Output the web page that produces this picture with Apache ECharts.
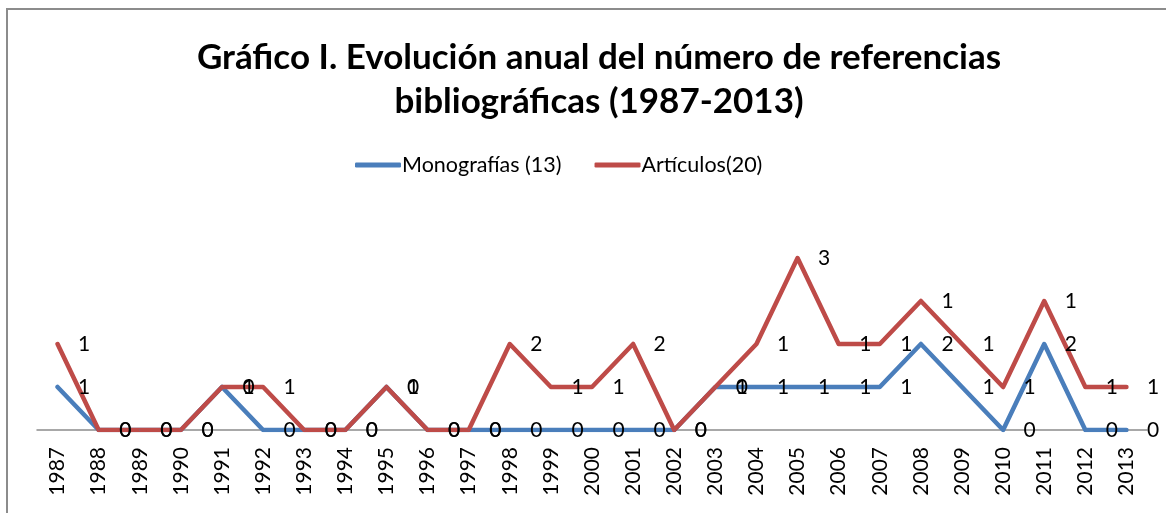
<!DOCTYPE html>
<html>
<head>
<meta charset="utf-8">
<script src="https://cdn.jsdelivr.net/npm/echarts@6/dist/echarts.min.js"></script>
<style>
    html, body { margin: 0; padding: 0; background: #fff; }
    #chartsDOM { width: 1166px; height: 513px; }
</style>
</head>
<body>
<div id="chartsDOM"></div>
<script>
// años del eje horizontal
var years = ['1987', '1988', '1989', '1990', '1991', '1992', '1993', '1994', '1995',
    '1996', '1997', '1998', '1999', '2000', '2001', '2002', '2003', '2004', '2005',
    '2006', '2007', '2008', '2009', '2010', '2011', '2012', '2013'];
// Monografías (13)
var monografias = [1, 0, 0, 0, 1, 0, 0, 0, 1, 0, 0, 0, 0, 0, 0, 0, 1, 1, 1, 1, 1, 2, 1, 0, 2, 0, 0];
// Artículos (20) - apilado sobre monografías
var articulos = [1, 0, 0, 0, 0, 1, 0, 0, 0, 0, 0, 2, 1, 1, 2, 0, 0, 1, 3, 1, 1, 1, 1, 1, 1, 1, 1];

var fuente = 'Lato';

var myChart = echarts.init(document.getElementById('chartsDOM'));
var etiqueta = {
    show: true,
    position: 'right',
    distance: 20,
    color: '#000',
    fontFamily: fuente,
    fontSize: 21
};
var option = {
    animation: false,
    title: {
        text: 'Gráfico I. Evolución anual del número de referencias\nbibliográficas (1987-2013)',
        left: 594,
        top: 31,
        textAlign: 'center',
        textStyle: {
            color: '#000',
            fontFamily: fuente,
            fontWeight: 'bold',
            fontSize: 35,
            lineHeight: 44
        }
    },
    legend: {
        top: 149,
        left: 350,
        itemWidth: 46,
        itemHeight: 5,
        itemGap: 33,
        icon: 'roundRect',
        textStyle: { color: '#000', fontFamily: fuente, fontSize: 21.5, padding: [0, 0, 0, -4] },
        data: ['Monografías (13)', 'Artículos(20)']
    },
    // marco del gráfico
    graphic: [{
        type: 'rect',
        shape: { x: 7, y: 9, width: 1200, height: 600 },
        style: { fill: 'none', stroke: '#8c8c8c', lineWidth: 2 },
        silent: true
    }],
    grid: { left: 37, right: 19, top: 215, bottom: 83 },
    xAxis: {
        type: 'category',
        data: years,
        boundaryGap: true,
        axisLine: { lineStyle: { color: '#8c8c8c', width: 1.5 } },
        axisTick: { show: false },
        axisLabel: {
            rotate: 90,
            interval: 0,
            margin: 17,
            color: '#000',
            fontFamily: fuente,
            fontSize: 21
        }
    },
    yAxis: {
        type: 'value',
        min: 0,
        max: 5,
        show: false,
        splitLine: { show: false }
    },
    series: [
        {
            name: 'Monografías (13)',
            type: 'line',
            stack: 'total',
            data: monografias,
            symbol: 'circle',
            symbolSize: 1,
            color: '#4a7ebb',
            lineStyle: { width: 4.5, cap: 'round', join: 'round' },
            label: etiqueta
        },
        {
            name: 'Artículos(20)',
            type: 'line',
            stack: 'total',
            data: articulos,
            symbol: 'circle',
            symbolSize: 1,
            color: '#be4b48',
            lineStyle: { width: 4.5, cap: 'round', join: 'round' },
            label: etiqueta
        }
    ]
};
myChart.setOption(option);
</script>
</body>
</html>
